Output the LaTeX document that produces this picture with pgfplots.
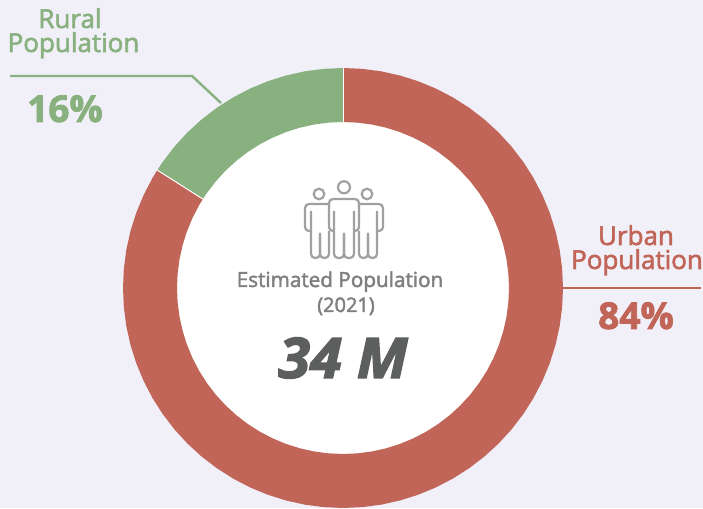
\documentclass[border=0pt]{standalone}
\usepackage{pgfplots}
\pgfplotsset{compat=1.18}
\usepackage{fontspec}
\setmainfont{Open Sans}
\newfontfamily\semi[FakeBold=2.2]{Open Sans}
\newfontfamily\lab[FakeBold=2.2]{Open Sans}
\newfontfamily\pct[BoldFeatures={FakeBold=2}]{Open Sans}
\newfontfamily\heavy[BoldItalicFeatures={FakeBold=2.5}]{Open Sans}
\definecolor{bgc}{HTML}{F1F0F8}
\definecolor{redc}{HTML}{C06557}
\definecolor{greenc}{HTML}{88B17F}
\definecolor{labc}{HTML}{7F7F7F}
\definecolor{bigc}{HTML}{5C5F5E}
\definecolor{iconc}{HTML}{A0A0A0}
\begin{document}
\begin{tikzpicture}[every node/.append style={inner sep=0pt,outer sep=0pt}]
\begin{axis}[
  x=1pt,y=1pt,
  xmin=-343,xmax=360,ymin=-220,ymax=288,
  hide axis,clip=false,
  scale only axis,
  enlargelimits=false,
]
\fill[bgc] (axis cs:-343,-220) rectangle (axis cs:360,288);
\fill[white] (axis cs:0,0) circle[radius=170];
% Rural 16%
\addplot[fill=greenc,draw=none,no markers,data cs=polar] coordinates {
(90,220)(95,220)(100,220)(105,220)(110,220)(115,220)(120,220)(125,220)(130,220)(135,220)(140,220)(145,220)(147.6,220)
(147.6,166)(145,166)(140,166)(135,166)(130,166)(125,166)(120,166)(115,166)(110,166)(105,166)(100,166)(95,166)(90,166)
} --cycle;
% Urban 84%
\addplot[fill=redc,draw=none,no markers,data cs=polar] coordinates {
(147.6,220)(150,220)(155,220)(160,220)(165,220)(170,220)(175,220)(180,220)(185,220)(190,220)(195,220)(200,220)(205,220)(210,220)(215,220)(220,220)(225,220)(230,220)(235,220)(240,220)(245,220)(250,220)(255,220)(260,220)(265,220)(270,220)(275,220)(280,220)(285,220)(290,220)(295,220)(300,220)(305,220)(310,220)(315,220)(320,220)(325,220)(330,220)(335,220)(340,220)(345,220)(350,220)(355,220)(360,220)(365,220)(370,220)(375,220)(380,220)(385,220)(390,220)(395,220)(400,220)(405,220)(410,220)(415,220)(420,220)(425,220)(430,220)(435,220)(440,220)(445,220)(450,220)
(450,166)(445,166)(440,166)(435,166)(430,166)(425,166)(420,166)(415,166)(410,166)(405,166)(400,166)(395,166)(390,166)(385,166)(380,166)(375,166)(370,166)(365,166)(360,166)(355,166)(350,166)(345,166)(340,166)(335,166)(330,166)(325,166)(320,166)(315,166)(310,166)(305,166)(300,166)(295,166)(290,166)(285,166)(280,166)(275,166)(270,166)(265,166)(260,166)(255,166)(250,166)(245,166)(240,166)(235,166)(230,166)(225,166)(220,166)(215,166)(210,166)(205,166)(200,166)(195,166)(190,166)(185,166)(180,166)(175,166)(170,166)(165,166)(160,166)(155,166)(150,166)(147.6,166)
} --cycle;
\addplot[white,line width=1pt,no markers,data cs=polar] coordinates {(147.6,166)(147.6,220)};
\addplot[white,line width=0.6pt,no markers,data cs=polar] coordinates {(90,166)(90,220)};
% leaders
\addplot[greenc,line width=2.4pt,no markers] coordinates {(-333,212)(-151,212)(-122,185)};
\addplot[redc,line width=2.4pt,no markers] coordinates {(220,0)(358,0)};
% labels
\node[anchor=base,text=greenc,font=\fontsize{26}{26}\selectfont\lab] at (axis cs:-273,260) {Rural};
\node[anchor=base,text=greenc,font=\fontsize{26}{26}\selectfont\lab] at (axis cs:-269.5,236) {Population};
\node[anchor=base,text=greenc,font=\fontsize{37}{37}\selectfont\pct\bfseries] at (axis cs:-278,166) {16\%};
\node[anchor=base,text=redc,font=\fontsize{26}{26}\selectfont\lab] at (axis cs:293,43) {Urban};
\node[anchor=base,text=redc,font=\fontsize{26}{26}\selectfont\lab] at (axis cs:294,19) {Population};
\node[anchor=base,text=redc,font=\fontsize{37}{37}\selectfont\pct\bfseries] at (axis cs:293,-41) {84\%};
\node[anchor=base,text=labc,font=\fontsize{20.7}{20.7}\selectfont\semi] at (axis cs:-3,1) {Estimated Population};
\node[anchor=base,text=labc,font=\fontsize{20}{20}\selectfont\semi] at (axis cs:3,-24) {(2021)};
\node[anchor=base,text=bigc,xscale=1.03,font=\fontsize{56}{56}\selectfont\heavy\bfseries\itshape] at (axis cs:0,-90) {34 M};
% icon
\begin{scope}[draw=iconc,line width=2.2pt,rounded corners=4pt]
\draw[rounded corners=0pt] (axis cs:1,100.7) circle[radius=6];
\draw[rounded corners=0pt] (axis cs:-24,94) circle[radius=5.3];
\draw[rounded corners=0pt] (axis cs:24,94) circle[radius=5.3];
\draw (axis cs:-9,77)--(axis cs:-9,30)--(axis cs:1,30)--(axis cs:1,55);
\draw (axis cs:1,55)--(axis cs:1,30)--(axis cs:11,30)--(axis cs:11,77);
\draw (axis cs:-9,57)--(axis cs:-14,57)--(axis cs:-14,89)--(axis cs:16,89)--(axis cs:16,57)--(axis cs:11,57);
\draw (axis cs:-32,77)--(axis cs:-32,30)--(axis cs:-23,30)--(axis cs:-23,55);
\draw (axis cs:-23,55)--(axis cs:-23,30)--(axis cs:-14,30)--(axis cs:-14,57);
\draw (axis cs:-32,57)--(axis cs:-38,57)--(axis cs:-38,84)--(axis cs:-14,84);
\draw (axis cs:34,77)--(axis cs:34,30)--(axis cs:25,30)--(axis cs:25,55);
\draw (axis cs:25,55)--(axis cs:25,30)--(axis cs:16,30)--(axis cs:16,57);
\draw (axis cs:34,57)--(axis cs:40,57)--(axis cs:40,84)--(axis cs:16,84);
\end{scope}
\end{axis}
\end{tikzpicture}
\end{document}
